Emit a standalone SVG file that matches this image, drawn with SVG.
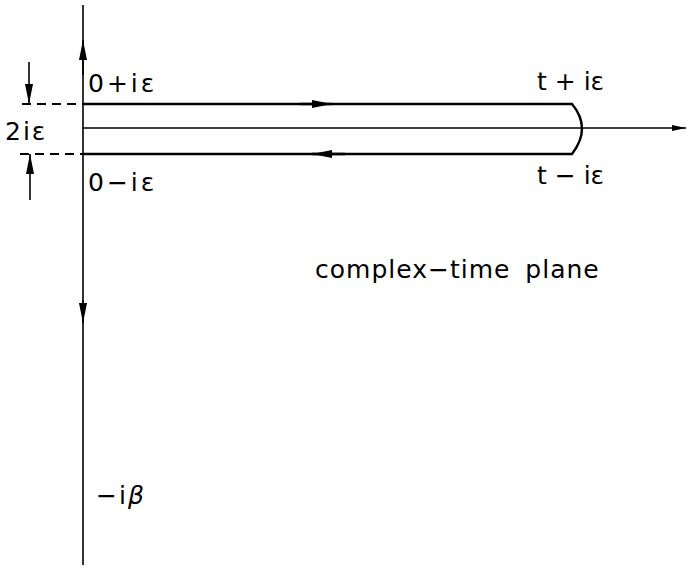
<svg xmlns="http://www.w3.org/2000/svg" width="687" height="569" viewBox="0 0 687 569">
<style>
.ln{stroke:#000;stroke-width:1.6;fill:none}
.thk{stroke:#000;stroke-width:2.4;fill:none}
.ds{stroke:#000;stroke-width:2;fill:none;stroke-dasharray:9,6}
.t{font-family:"DejaVu Sans","Liberation Sans",sans-serif;font-size:25px;fill:#000}
.s{letter-spacing:1px;word-spacing:6px}
</style>
<defs>
<marker id="ah" markerWidth="20" markerHeight="8" refX="20" refY="4" orient="auto" markerUnits="userSpaceOnUse">
<path d="M0,0 L20,4 L0,8 Z" fill="#000"/>
</marker>
<marker id="sm" markerWidth="14" markerHeight="6" refX="14" refY="3" orient="auto" markerUnits="userSpaceOnUse">
<path d="M0,0 L14,3 L0,6 Z" fill="#000"/>
</marker>
</defs>
<rect width="687" height="569" fill="#fff"/>
<g id="connectors">
<line class="ln" x1="83" y1="565" x2="83" y2="5"/>
<line class="ln" x1="83" y1="75" x2="83" y2="40" marker-end="url(#ah)"/>
<line class="ln" x1="83" y1="300" x2="83" y2="323" marker-end="url(#ah)"/>
<line class="ln" x1="83" y1="128" x2="686" y2="128" marker-end="url(#sm)"/>
<path class="thk" d="M83,104 H572 Q592,128 572,154 H83"/>
<line class="thk" x1="300" y1="104" x2="332" y2="104" marker-end="url(#ah)"/>
<line class="thk" x1="345" y1="154" x2="312" y2="154" marker-end="url(#ah)"/>
<line class="ds" x1="22" y1="104" x2="83" y2="104"/>
<line class="ds" x1="20" y1="154" x2="83" y2="154"/>
<line class="ln" x1="29" y1="62" x2="29" y2="104" marker-end="url(#ah)"/>
<line class="ln" x1="30" y1="200" x2="30" y2="154" marker-end="url(#ah)"/>
</g>
<g id="labels">
<text class="t" x="88" y="92" letter-spacing="3">0+iε</text>
<text class="t" x="5" y="140" letter-spacing="2">2iε</text>
<text class="t" x="88" y="191" letter-spacing="3">0−iε</text>
<text class="t" x="537" y="90">t + iε</text>
<text class="t" x="537" y="184">t − iε</text>
<text class="t s" x="315" y="278">complex−time plane</text>
<text class="t" x="96" y="504" letter-spacing="2">−i<tspan font-style="italic">β</tspan></text>
</g>
</svg>
